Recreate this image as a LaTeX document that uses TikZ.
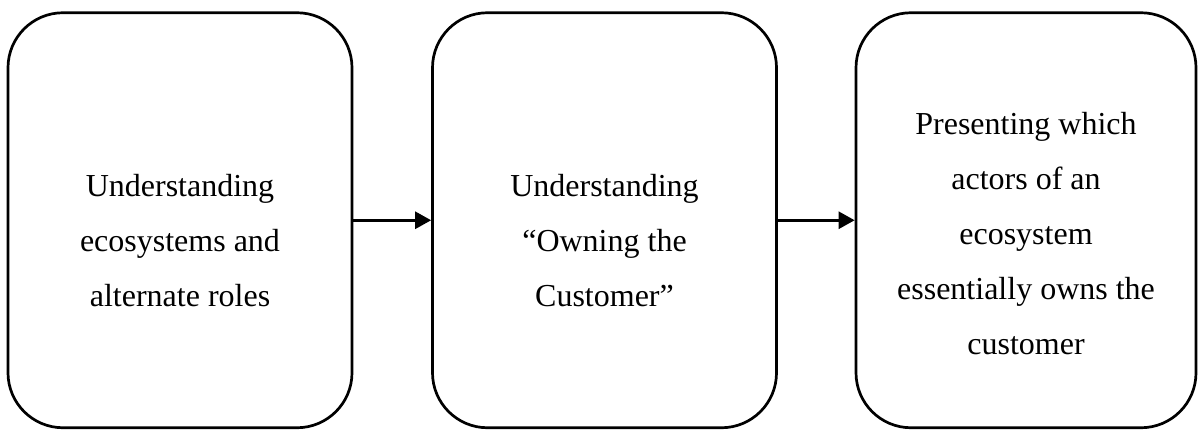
\documentclass[tikz,border=0pt]{standalone}
\usepackage{fontspec}
\setmainfont{Liberation Serif}
\usetikzlibrary{arrows.meta}
\tikzset{
  >={Triangle[length=16pt,width=17pt]},
  stage/.style={rounded corners=55pt, draw=black, line width=2.7pt,
              minimum width=344pt, minimum height=415pt, inner sep=0pt},
  stagetxt/.style={align=center, inner sep=0pt,
              font=\fontsize{32}{55}\selectfont},
  flow/.style={->, draw=black, line width=2.7pt},
}

\begin{document}
\begin{tikzpicture}[x=1pt,y=-1pt]
        \useasboundingbox (0,0) rectangle (1198,430);
        % three stages, left to right
        \node[stage] (s1) at (180,220.25) {};
        \node[stage] (s2) at (604.5,220.25) {};
        \node[stage,minimum width=340pt] (s3) at (1026,220.25) {};
        \node[stagetxt,yshift=-20pt] (t1) at (s1) {Understanding\\ecosystems and\\alternate roles};
        \node[stagetxt,yshift=-20pt] (t2) at (s2) {Understanding\\“Owning the\\Customer”};
        \node[stagetxt,yshift=-13pt] (t3) at (s3) {Presenting which\\actors of an\\ecosystem\\essentially owns the\\customer};
        % arrows between the stages
        \draw[flow] (s1.east) -- (s2.west);
        \draw[flow] (s2.east) -- (s3.west);
      \end{tikzpicture}
\end{document}
